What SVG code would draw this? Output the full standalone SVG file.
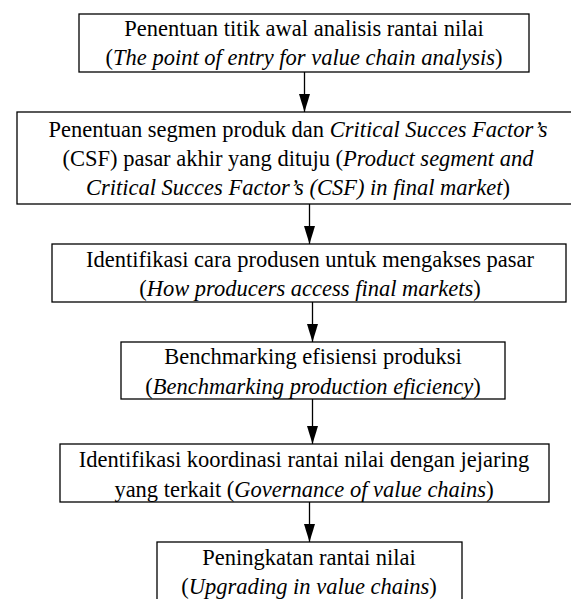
<svg xmlns="http://www.w3.org/2000/svg" width="571" height="599" viewBox="0 0 571 599">
<defs>
<style>
.box{fill:#fff;stroke:#000;stroke-width:1.3}
.t{font-size:22.5px;fill:#000;text-anchor:middle}
.i{font-style:italic}
.c{stroke:#000;stroke-width:1.3;fill:none}
</style>
<marker id="ah" markerUnits="userSpaceOnUse" markerWidth="18" markerHeight="11" refX="18" refY="5.5" orient="auto" viewBox="0 0 18 11">
<path d="M0,0 L18,5.5 L0,11 Z" fill="#000"/>
</marker>
</defs>
<rect width="571" height="599" fill="#fff"/>
<g id="connectors">
<line class="c" x1="304.5" y1="72" x2="304.5" y2="112" marker-end="url(#ah)"/>
<line class="c" x1="309.5" y1="204" x2="309.5" y2="244" marker-end="url(#ah)"/>
<line class="c" x1="312.5" y1="302" x2="312.5" y2="342" marker-end="url(#ah)"/>
<line class="c" x1="312.5" y1="399" x2="312.5" y2="444" marker-end="url(#ah)"/>
<line class="c" x1="309.5" y1="502" x2="309.5" y2="542" marker-end="url(#ah)"/>
</g>
<g font-family="'Liberation Serif', 'DejaVu Serif', serif">
<g id="n1">
<rect class="box" x="79" y="14" width="450" height="58"/>
<text class="t" x="304" y="36">Penentuan titik awal analisis rantai nilai</text>
<text class="t" x="304" y="65">(<tspan class="i">The point of entry for value chain analysis</tspan>)</text>
</g>
<g id="n2">
<rect class="box" x="17" y="112" width="564" height="92"/>
<text class="t" x="298" y="137">Penentuan segmen produk dan <tspan class="i">Critical Succes Factor’s</tspan></text>
<text class="t" x="298" y="166">(CSF) pasar akhir yang dituju (<tspan class="i">Product segment and</tspan></text>
<text class="t" x="298" y="195"><tspan class="i">Critical Succes Factor’s (CSF) in final market</tspan>)</text>
</g>
<g id="n3">
<rect class="box" x="52" y="244" width="514" height="58"/>
<text class="t" x="310" y="267">Identifikasi cara produsen untuk mengakses pasar</text>
<text class="t" x="310" y="296">(<tspan class="i">How producers access final markets</tspan>)</text>
</g>
<g id="n4">
<rect class="box" x="121" y="342" width="384" height="57"/>
<text class="t" x="313" y="364">Benchmarking efisiensi produksi</text>
<text class="t" x="313" y="394">(<tspan class="i">Benchmarking production eficiency</tspan>)</text>
</g>
<g id="n5">
<rect class="box" x="60" y="444" width="489" height="58"/>
<text class="t" x="304" y="467">Identifikasi koordinasi rantai nilai dengan jejaring</text>
<text class="t" x="304" y="497">yang terkait (<tspan class="i">Governance of value chains</tspan>)</text>
</g>
<g id="n6">
<rect class="box" x="157" y="542" width="305" height="70"/>
<text class="t" x="309" y="565">Peningkatan rantai nilai</text>
<text class="t" x="309" y="594">(<tspan class="i">Upgrading in value chains</tspan>)</text>
</g>
</g>
</svg>
